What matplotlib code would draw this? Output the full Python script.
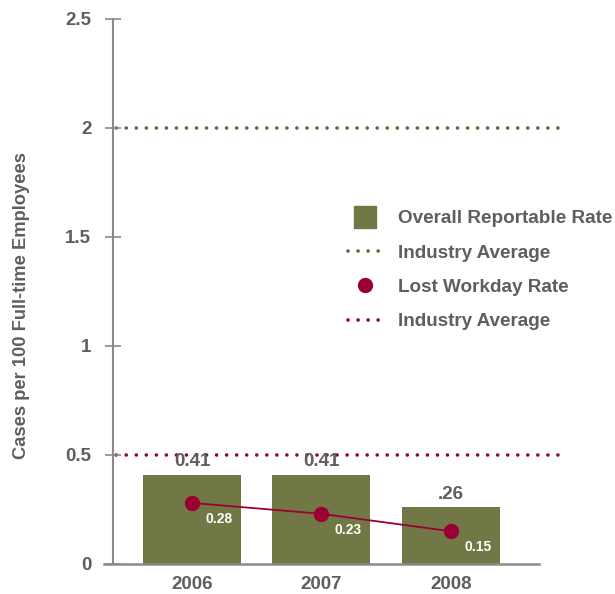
import matplotlib
matplotlib.use("Agg")
import matplotlib.pyplot as plt
from matplotlib.lines import Line2D

plt.rcParams["font.family"] = ["Liberation Sans", "DejaVu Sans"]
plt.rcParams["font.weight"] = "bold"

# Data
years = ["2006", "2007", "2008"]
reportable_rate = [0.41, 0.41, 0.26]
reportable_labels = ["0.41", "0.41", ".26"]
lost_workday_rate = [0.28, 0.23, 0.15]
lost_workday_labels = ["0.28", "0.23", "0.15"]
reportable_industry_avg = 2.0
lost_workday_industry_avg = 0.5
y_ticks = [0, 0.5, 1, 1.5, 2, 2.5]
y_tick_labels = ["0", "0.5", "1", "1.5", "2", "2.5"]

OLIVE = "#717845"
OLIVE_DOT = "#5f6b2c"
CRIMSON = "#9b0033"
TEXT = "#5e5e5e"
AXIS = "#8a8a8a"

fig = plt.figure(figsize=(6.15, 5.94), dpi=100)
ax = fig.add_axes([113 / 615, 30 / 594, 447 / 615, 545.4 / 594])

x = list(range(len(years)))
ax.bar(x, reportable_rate, width=0.757, color=OLIVE, zorder=2)

DOT_LW = 2.6
dot_style = (1.9, (0.01, 2.77))
ax.axhline(reportable_industry_avg, color=OLIVE_DOT, lw=DOT_LW,
           linestyle=dot_style, dash_capstyle="round", zorder=1)
ax.axhline(lost_workday_industry_avg, color=CRIMSON, lw=DOT_LW,
           linestyle=dot_style, dash_capstyle="round", zorder=1)

ax.plot(x, lost_workday_rate, color=CRIMSON, lw=1.3, marker="o",
        markersize=10, zorder=3)

for xi, v, lab in zip(x, reportable_rate, reportable_labels):
    ax.annotate(lab, (xi, v), xytext=(0, 3), textcoords="offset points",
                ha="center", va="bottom", fontsize=13.5, color=TEXT,
                fontweight="bold")

for xi, v, lab in zip(x, lost_workday_rate, lost_workday_labels):
    ax.annotate(lab, (xi, v), xytext=(19.5, -11.5), textcoords="offset points",
                ha="center", va="center", fontsize=10, color="white",
                fontweight="bold", zorder=4)

ax.set_xlim(-0.61, 2.842)
ax.set_ylim(0, 2.5)
ax.set_yticks(y_ticks)
ax.set_yticklabels(y_tick_labels)
ax.set_xticks(x)
ax.set_xticklabels(years)

for side in ["top", "right", "bottom"]:
    ax.spines[side].set_visible(False)
ax.spines["left"].set_color(AXIS)
ax.spines["left"].set_linewidth(1.5)
ax.axhline(0, xmin=-0.02, xmax=0.953, color=AXIS, lw=1.8, clip_on=False,
           zorder=5)

ax.tick_params(axis="y", direction="inout", length=12.2, width=1.2,
               color=AXIS, pad=9.5, labelsize=13.5, labelcolor=TEXT)
ax.tick_params(axis="x", length=0, pad=8.5, labelsize=13.5, labelcolor=TEXT)

ax.set_ylabel("Cases per 100 Full-time Employees", fontsize=13.2,
              color=TEXT, fontweight="bold")
ax.yaxis.set_label_coords(-0.185, 0.474)

legend_dots = (0, (0.01, 2.77))
handles = [
    Line2D([], [], linestyle="none", marker="s", markersize=16.5,
           markerfacecolor=OLIVE, markeredgecolor=OLIVE),
    Line2D([], [], color=OLIVE_DOT, lw=DOT_LW, linestyle=legend_dots,
           dash_capstyle="round"),
    Line2D([], [], linestyle="none", marker="o", markersize=10,
           markerfacecolor=CRIMSON, markeredgecolor=CRIMSON),
    Line2D([], [], color=CRIMSON, lw=DOT_LW, linestyle=legend_dots,
           dash_capstyle="round"),
]
labels = ["Overall Reportable Rate", "Industry Average",
          "Lost Workday Rate", "Industry Average"]
ax.legend(handles, labels, loc="upper left",
          bbox_to_anchor=(348 / 615, 1 - 210 / 594),
          bbox_transform=fig.transFigure, frameon=False,
          fontsize=13.6, labelcolor=TEXT, handlelength=1.8,
          handletextpad=0.85, labelspacing=0.91, borderpad=0,
          borderaxespad=0)

fig.savefig("out.png", dpi=100)
